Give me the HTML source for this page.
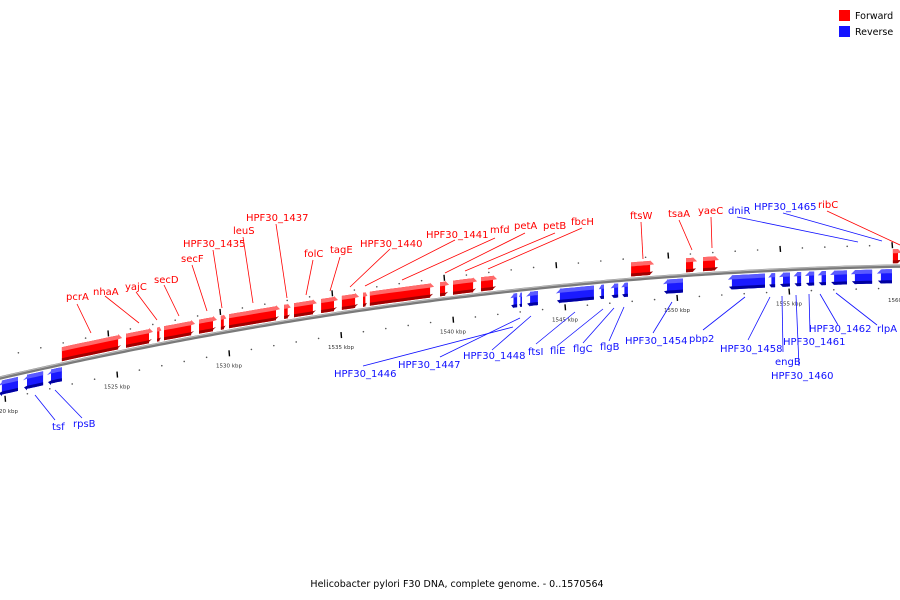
<!DOCTYPE html>
<html><head><meta charset="utf-8">
<style>
html,body{margin:0;padding:0;background:#fff;}
svg{display:block;font-family:"DejaVu Sans","Liberation Sans",sans-serif;}
</style></head>
<body>
<svg id="chart" width="900" height="600" viewBox="0 0 900 600" xmlns="http://www.w3.org/2000/svg">
<g id="backbone-layer"></g>
<g id="tick-layer"></g>
<g id="gene-layer"></g>
<g id="label-layer"></g>
<g>
<rect x="839" y="10" width="11" height="11" fill="#f00"/>
<text x="855" y="19" font-size="9.5" fill="#000">Forward</text>
<rect x="839" y="26" width="11" height="11" fill="#1414ff"/>
<text x="855" y="35" font-size="9.5" fill="#000">Reverse</text>
</g>
<text x="457" y="587" font-size="9.5" text-anchor="middle" fill="#000">Helicobacter pylori F30 DNA, complete genome. - 0..1570564</text>
</svg>
<script>
// gene data (kbp)
const fwdStart=[1522.54,1525.40,1526.79,1527.10,1528.66,1529.64,1530.00,1532.46,1532.90,1534.11,1535.04,1535.98,1536.29,1539.42,1540.00,1541.25,1547.95,1550.40,1551.16,1559.64];
const fwdEnd  =[1525.36,1526.74,1527.05,1528.62,1529.60,1529.96,1532.41,1532.86,1534.06,1535.00,1535.94,1536.25,1539.29,1539.96,1541.21,1542.10,1549.11,1551.03,1552.01,1560.18];
const revStart=[1519.55,1520.67,1521.74,1542.46,1542.90,1543.13,1544.46,1546.43,1546.92,1547.41,1549.24,1552.14,1553.97,1554.42,1555.09,1555.58,1556.16,1556.70,1557.63,1558.79];
const revEnd  =[1520.58,1521.70,1522.54,1542.86,1543.08,1543.79,1546.29,1546.74,1547.37,1547.81,1550.27,1553.93,1554.38,1555.04,1555.54,1556.12,1556.65,1557.59,1558.71,1559.60];
const majorTicks=[1520,1525,1530,1535,1540,1545,1550,1555,1560];
const tickLabels=["1520 kbp","1525 kbp","1530 kbp","1535 kbp","1540 kbp","1545 kbp","1550 kbp","1555 kbp","1560 kbp"];
const minorTicks=[1518,1519,1521,1522,1523,1524,1526,1527,1528,1529,1531,1532,1533,1534,1536,1537,1538,1539,1541,1542,1543,1544,1546,1547,1548,1549,1551,1552,1553,1554,1556,1557,1558,1559,1561];
// labels: text, x, baseline y, leader from, leader to, strand
const labelText=["pcrA","nhaA","yajC","secD","secF","HPF30_1435","leuS","HPF30_1437","folC","tagE","HPF30_1440","HPF30_1441","mfd","petA","petB","fbcH","ftsW","tsaA","yaeC","ribC",
"dniR","HPF30_1465","tsf","rpsB","HPF30_1446","HPF30_1447","HPF30_1448","ftsI","fliE","flgC","flgB","HPF30_1454","pbp2","HPF30_1458","engB","HPF30_1460","HPF30_1461","HPF30_1462","rlpA"];
const labelStrand=["f","f","f","f","f","f","f","f","f","f","f","f","f","f","f","f","f","f","f","f","r","r","r","r","r","r","r","r","r","r","r","r","r","r","r","r","r","r","r"];

const NS='http://www.w3.org/2000/svg';
const X=k=>117+(k-1525)*22.4;
const Y=x=>378-0.231*x+1.185e-4*x*x;
function mk(tag,attrs,parent){const e=document.createElementNS(NS,tag);for(const a in attrs)e.setAttribute(a,attrs[a]);parent.appendChild(e);return e;}

// backbone
const bb=document.getElementById('backbone-layer');
let d='';for(let x=-5;x<=905;x+=5){d+=(x===-5?'M':'L')+x+','+Y(x).toFixed(2);}
const bl=mk('path',{d:d,stroke:'#7a7a7a','stroke-width':3.5,fill:'none'},bb);


const bl2=mk('path',{d:d,stroke:'#bbb','stroke-width':1,fill:'none',transform:'translate(0,-1)'},bb);



// ticks
const tl=document.getElementById('tick-layer');
majorTicks.forEach((k,i)=>{
  const x=X(k),y=Y(x)+22;
  const t=mk('line',{x1:x,y1:y-3,x2:x+0.5,y2:y+3,stroke:'#000','stroke-width':1.4},tl);
  
  
  const lb=mk('text',{x:x,y:y+14,'font-size':5.5,'text-anchor':'middle',fill:'#333'},tl);
  lb.textContent=tickLabels[i];
  
  
  const xu=x-9,yu=Y(xu)-21;
  const u=mk('line',{x1:xu,y1:yu-3,x2:xu+0.5,y2:yu+3,stroke:'#000','stroke-width':1.4},tl);
  
  
});
minorTicks.forEach(k=>{
  const x=X(k);
  const a=mk('circle',{cx:x,cy:Y(x)+22,r:0.8,fill:'#555'},tl);
  
  
  const b=mk('circle',{cx:x-9,cy:Y(x-9)-21,r:0.8,fill:'#555'},tl);
  
  
});

// genes
const gl=document.getElementById('gene-layer');
function gene(k0,k1,fwd,i){
  const x0=X(k0),x1=X(k1);
  const len=x1-x0,head=Math.min(7,len*0.6);
  const sgn=fwd?-1:1, h1=3, h2=17, hm=(h1+h2)/2;
  const off=(x,h)=>Y(x)+sgn*h;
  const g=mk('g',{},gl);
  
  
  function band(ha,hb,col){
    let pts=[];
    if(fwd){
      const xb=x1-head;
      const st=[];for(let s=0;s<=6;s++)st.push(x0+(xb-x0)*s/6);
      st.forEach(x=>pts.push([x,off(x,ha)]));
      // along head, interpolate toward tip
      const ta=ha+(hm-ha), tb=hb+(hm-hb);
      pts.push([x1-head*(Math.abs(ha-hm)/(h2-hm)) ,off(x1,ha)]);
      pts.push([x1-head*(Math.abs(hb-hm)/(h2-hm)) ,off(x1,hb)]);
      st.slice().reverse().forEach(x=>pts.push([x,off(x,hb)]));
    }else{
      const xb=x0+head;
      const st=[];for(let s=0;s<=6;s++)st.push(xb+(x1-xb)*s/6);
      pts.push([x0+head*(Math.abs(ha-hm)/(h2-hm)),off(x0,ha)]);
      st.forEach(x=>pts.push([x,off(x,ha)]));
      st.slice().reverse().forEach(x=>pts.push([x,off(x,hb)]));
      pts.push([x0+head*(Math.abs(hb-hm)/(h2-hm)),off(x0,hb)]);
    }
    return mk('polygon',{points:pts.map(p=>p[0].toFixed(1)+','+p[1].toFixed(1)).join(' '),fill:col},g);
  }
  if(fwd){
    band(h2,h1,'#f00');
    band(h2,h2-4,'#ff6a6a');
    band(h1+3,h1,'#a00000');
  }else{
    band(h1,h2,'#1a1aff');
    band(h1,h1+4,'#5a5aff');
    band(h2-3,h2,'#0000a0');
  }
}
fwdStart.forEach((s,i)=>gene(s,fwdEnd[i],true,i));
revStart.forEach((s,i)=>gene(s,revEnd[i],false,i));

// labels (positions of annotation text)
const labelPos=[[66,300,77,304,91,333],[93,295,105,296,139,323],[125,290,136,292,157,320],[154,283,164,285,179,316],[181,262,192,265,207,311],[183,247,213,250,222,308],[233,234,243,237,253,303],[246,221,276,224,287,298],[304,257,313,260,306,295],[330,253,340,257,330,291],[360,247,390,249,350,287],[426,238,455,240,365,286],[490,233,495,238,402,280],[514,229,525,233,445,273],[543,229,555,233,465,271],[571,225,582,228,488,269],[630,219,641,222,643,259],[668,217,679,220,692,250],[698,214,711,217,712,248],[818,208,827,211,900,245],
[728,214,737,217,858,242],[754,210,783,213,882,241],[52,430,55,420,35,395],[73,427,82,418,55,390],[334,377,363,366,513,327],[398,368,440,357,520,318],[463,359,492,350,531,316],[528,355,536,344,575,312],[550,354,557,346,603,309],[573,352,583,343,614,308],[600,350,609,341,624,307],[625,344,653,333,672,302],[689,342,703,330,745,297],[720,352,748,340,770,297],[775,365,783,352,782,296],[771,379,799,366,796,295],[783,345,810,332,809,294],[809,332,838,325,820,294],[877,332,877,325,836,293]];
const ll=document.getElementById('label-layer');
labelText.forEach((t,i)=>{
  const p=labelPos[i],col=labelStrand[i]==='f'?'#f00':'#1010ff';
  const ln=mk('line',{x1:p[2],y1:p[3],x2:p[4],y2:p[5],stroke:col,'stroke-width':0.8},ll);
  
  
  const tx=mk('text',{x:p[0],y:p[1],'font-size':10,fill:col},ll);
  tx.textContent=t;
  
  
});
</script>
</body></html>
